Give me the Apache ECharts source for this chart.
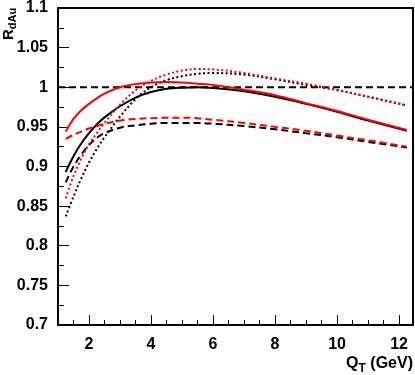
<!DOCTYPE html>
<html>
<head>
<meta charset="utf-8">
<script src="https://cdn.jsdelivr.net/npm/echarts@6/dist/echarts.min.js"></script>
<style>
html,body{margin:0;padding:0;background:#fff;}
#chart{width:415px;height:375px;}
</style>
</head>
<body>
<div id="chart"></div>
<script>
// Q_T values (GeV)
var qt = [1.25, 1.5, 1.75, 2, 2.25, 2.5, 3, 3.5, 4, 4.5, 5, 5.5, 6, 7, 8, 9, 10, 11, 12.25];
// R_dAu curves
var blackSolid  = [0.893, 0.913, 0.929, 0.942, 0.953, 0.962, 0.976, 0.987, 0.994, 0.998, 0.9995, 1.000, 0.999, 0.995, 0.988, 0.979, 0.969, 0.958, 0.945];
var redSolid    = [0.944, 0.960, 0.971, 0.979, 0.986, 0.992, 1.000, 1.004, 1.006, 1.0065, 1.006, 1.0045, 1.003, 0.997, 0.990, 0.980, 0.970, 0.959, 0.946];
var blackDashed = [0.880, 0.900, 0.915, 0.927, 0.936, 0.942, 0.949, 0.952, 0.954, 0.955, 0.955, 0.955, 0.954, 0.951, 0.947, 0.942, 0.937, 0.931, 0.924];
var redDashed   = [0.935, 0.940, 0.944, 0.948, 0.951, 0.954, 0.958, 0.960, 0.961, 0.9615, 0.9615, 0.961, 0.959, 0.955, 0.950, 0.945, 0.939, 0.933, 0.925];
var blackDotted = [0.837, 0.862, 0.885, 0.905, 0.922, 0.937, 0.963, 0.985, 1.000, 1.009, 1.014, 1.017, 1.018, 1.016, 1.010, 1.003, 0.9965, 0.988, 0.977];
var redDotted   = [0.860, 0.888, 0.910, 0.928, 0.942, 0.955, 0.978, 0.996, 1.008, 1.016, 1.021, 1.023, 1.0225, 1.018, 1.011, 1.0045, 0.9965, 0.988, 0.977];
// reference line
var refX = [1, 12.45];
var refY = [1, 1];
// axis ticks
var xTickLabels = [2, 4, 6, 8, 10, 12];
var yMin = 0.7, yMax = 1.1, yStep = 0.05;
var xMin = 1, xMax = 12.45;

function pairs(xs, ys) { return xs.map(function (x, i) { return [x, ys[i]]; }); }

var FONT = '"Liberation Sans", Arial, Helvetica, sans-serif';

function line(name, ys, color, type) {
  return {
    name: name, type: 'line', data: pairs(qt, ys), smooth: 0.35,
    showSymbol: false, symbol: 'none', silent: true,
    lineStyle: { color: color, width: 2, type: type, cap: 'butt' },
    z: color === '#ff0000' ? 3 : 2
  };
}

var chart = echarts.init(document.getElementById('chart'), null, { renderer: 'canvas' });
chart.setOption({
  animation: false,
  backgroundColor: '#ffffff',
  grid: { left: 58, top: 6, right: 2, bottom: 50, show: true, borderColor: '#000', borderWidth: 2, backgroundColor: 'transparent' },
  xAxis: [{
    type: 'value', min: xMin, max: xMax, interval: 0.5,
    axisLine: { show: true, onZero: false, lineStyle: { color: '#000', width: 2 } },
    axisTick: { show: true, inside: true, length: 5, lineStyle: { color: '#000', width: 1 } },
    axisLabel: { show: false },
    splitLine: { show: false }
  }, {
    type: 'value', min: xMin, max: xMax, position: 'bottom',
    axisLine: { show: false, onZero: false },
    axisTick: { show: true, inside: true, length: 10, customValues: xTickLabels, lineStyle: { color: '#000', width: 1 } },
    axisLabel: { show: true, customValues: xTickLabels, margin: 12, color: '#000', fontSize: 16, fontWeight: 'bold', fontFamily: FONT },
    splitLine: { show: false }
  }],
  yAxis: {
    type: 'value', min: yMin, max: yMax, interval: yStep,
    axisLine: { show: true, onZero: false, lineStyle: { color: '#000', width: 2 } },
    axisTick: { show: true, inside: true, length: 11, lineStyle: { color: '#000', width: 1 } },
    minorTick: { show: true, splitNumber: 2, length: 6, lineStyle: { color: '#000', width: 1 } },
    axisLabel: { margin: 10, color: '#000', fontSize: 16, fontWeight: 'bold', fontFamily: FONT,
      formatter: function (v) { return String(parseFloat(v.toFixed(3))); } },
    splitLine: { show: false }
  },
  series: [
    { name: 'ref', type: 'line', data: pairs(refX, refY), showSymbol: false, symbol: 'none', silent: true,
      lineStyle: { color: '#000', width: 2, type: [7, 4] }, z: 1 },
    line('black solid', blackSolid, '#000000', 'solid'),
    line('black dashed', blackDashed, '#000000', [7, 4]),
    line('black dotted', blackDotted, '#000000', [2, 2.5]),
    line('red solid', redSolid, '#ff0000', 'solid'),
    line('red dashed', redDashed, '#ff0000', [7, 4]),
    line('red dotted', redDotted, '#ff0000', [2, 2.5])
  ],
  graphic: [
    { type: 'text', x: 3, y: 40, rotation: Math.PI / 2,
      style: { text: '{a|R}{b|dAu}', fill: '#000', align: 'left', verticalAlign: 'top',
        rich: { a: { fontSize: 15, fontWeight: 'bold', fontFamily: FONT, lineHeight: 15, verticalAlign: 'bottom', padding: [0, 0, 2, 0] },
                b: { fontSize: 11, fontWeight: 'bold', fontFamily: FONT, lineHeight: 11, verticalAlign: 'bottom' } } } },
    { type: 'text', x: 413, y: 359,
      style: { text: '{a|Q}{b|T}{a| (GeV)}', fill: '#000', align: 'right', verticalAlign: 'top',
        rich: { a: { fontSize: 16, fontWeight: 'bold', fontFamily: FONT, lineHeight: 16, verticalAlign: 'bottom', padding: [0, 0, 3, 0] },
                b: { fontSize: 12, fontWeight: 'bold', fontFamily: FONT, lineHeight: 12, verticalAlign: 'bottom' } } } }
  ]
});
</script>
</body>
</html>
